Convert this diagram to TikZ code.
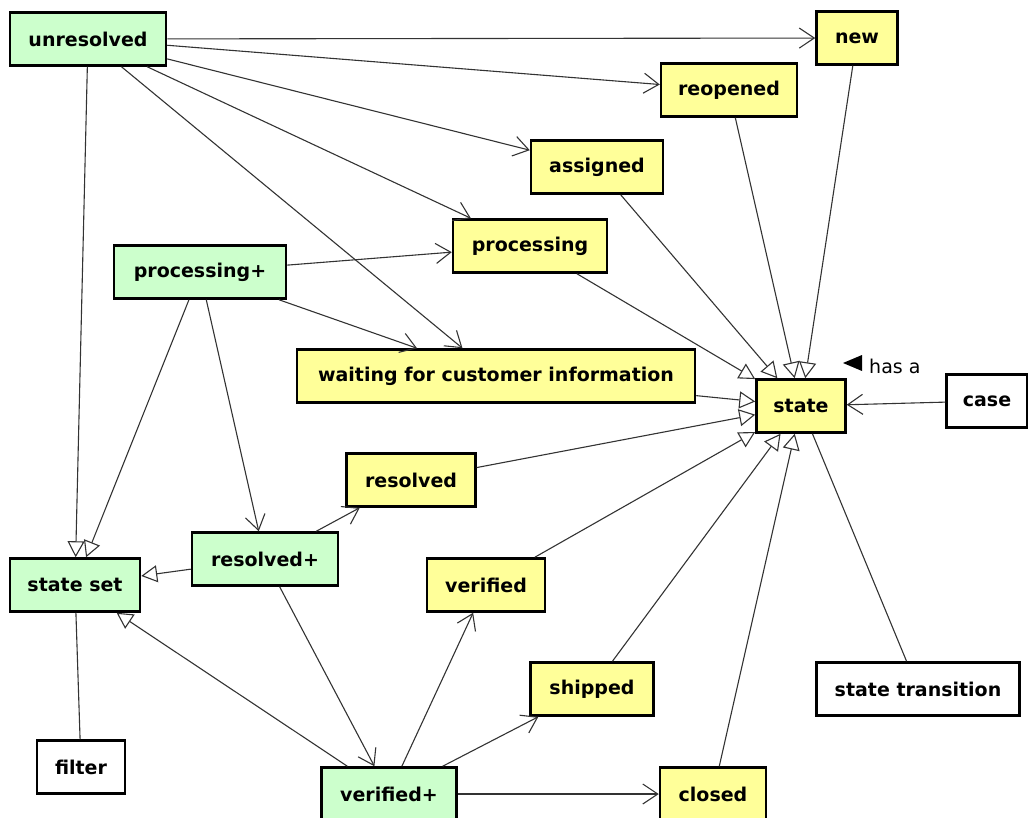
\documentclass[tikz,border=0pt]{standalone}
\usepackage{fontspec}
\setsansfont{DejaVu Sans}
\usetikzlibrary{arrows.meta}
\definecolor{plusgreen}{HTML}{CCFFCC}
\definecolor{stateyellow}{HTML}{FFFF99}
\definecolor{linkgray}{HTML}{333333}
\begin{document}
\begin{tikzpicture}[x=1pt,y=-1pt,
  box/.style={draw=black, line width=2.5pt, minimum height=53pt, inner sep=0pt,
    font=\sffamily\bfseries\fontsize{19}{22}\selectfont},
  grn/.style={box, fill=plusgreen},
  ylw/.style={box, fill=stateyellow},
  wht/.style={box, fill=white},
  link/.style={draw=linkgray, line width=1.1pt},
  assoc/.style={link, -{Straight Barb[length=15pt,width=20pt]}},
  isa/.style={link, -{Triangle[length=16pt,width=17pt,fill=white]}},
]
\useasboundingbox (0,0) rectangle (1028,818);
\clip (0,0) rectangle (1028,818);

% nodes
\node[grn, minimum width=156pt] (unresolved) at (88,39) {unresolved};
\node[ylw, minimum width=81pt]  (new)        at (857,38) {new};
\node[ylw, minimum width=136pt] (reopened)   at (729,90) {reopened};
\node[ylw, minimum width=132pt] (assigned)   at (597,167) {assigned};
\node[ylw, minimum width=154pt] (processing) at (530,246) {processing};
\node[grn, minimum width=172pt] (processingp) at (200,272) {processing+};
\node[ylw, minimum width=398pt] (waiting)    at (496,376) {waiting for customer information};
\node[ylw, minimum width=89pt]  (state)      at (801,406) {state};
\node[wht, minimum width=81pt]  (case)       at (987,401) {case};
\node[ylw, minimum width=129pt] (resolved)   at (411,480) {resolved};
\node[grn, minimum width=146pt] (resolvedp)  at (265,559) {resolved+};
\node[grn, minimum width=130pt] (stateset)   at (75,585) {state set};
\node[ylw, minimum width=118pt] (verified)   at (486,585) {verified};
\node[ylw, minimum width=123pt] (shipped)    at (592,689) {shipped};
\node[wht, minimum width=203pt] (transition) at (918,689) {state transition};
\node[wht, minimum width=88pt]  (filter)     at (81,767) {filter};
\node[grn, minimum width=135pt] (verifiedp)  at (389,794) {verified+};
\node[ylw, minimum width=106pt] (closed)     at (713,794) {closed};

% role label of the case association
\node[font=\sffamily\fontsize{19}{22}\selectfont, inner sep=0pt, anchor=west] (hasa) at (869,366) {has a};
\fill[black] ([xshift=-26pt]hasa.west |- 0,363) -- ++(19,-8) -- ++(0,16) -- cycle;

% associations from unresolved
\draw[assoc] (unresolved) -- (new);
\draw[assoc] (unresolved) -- (reopened);
\draw[assoc] (unresolved) -- (assigned);
\draw[assoc] (unresolved) -- (processing);
\draw[assoc] (unresolved) -- (waiting);

% associations from processing+
\draw[assoc] (processingp) -- (processing);
\draw[assoc] (processingp) -- (waiting);
\draw[assoc] (processingp) -- (resolvedp);

% associations from resolved+
\draw[assoc] (resolvedp) -- (resolved);
\draw[assoc] (resolvedp) -- (verifiedp);

% associations from verified+
\draw[assoc] (verifiedp) -- (verified);
\draw[assoc] (verifiedp) -- (shipped);
\draw[assoc] (verifiedp) -- (closed);

% state set generalisations
\draw[isa] (unresolved) -- (stateset);
\draw[isa] (processingp) -- (stateset);
\draw[isa] (resolvedp) -- (stateset);
\draw[isa] (verifiedp) -- (stateset);

% state generalisations
\foreach \s in {new, reopened, assigned, processing, waiting, resolved, verified, shipped, closed}
  \draw[isa] (\s) -- (state);

% other links
\draw[assoc] (case) -- (state);
\draw[link] (state) -- (transition);
\draw[link] (stateset) -- (filter);
\end{tikzpicture}
\end{document}
